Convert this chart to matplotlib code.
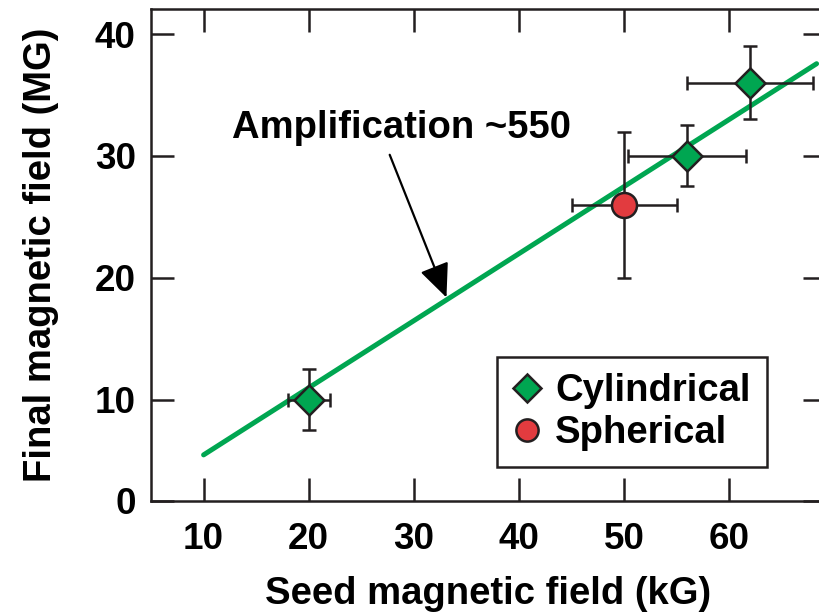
import matplotlib.pyplot as plt
from matplotlib.lines import Line2D

plt.rcParams["font.family"] = ["Liberation Sans", "DejaVu Sans"]
plt.rcParams["font.weight"] = "bold"

# Cylindrical implosions
cyl_seed = [20, 56, 62]
cyl_final = [10, 30, 36]
cyl_seed_err = [2, 5.6, 6]
cyl_final_err = [2.5, 2.5, 3]

# Spherical implosion
sph_seed = [50]
sph_final = [26]
sph_seed_err = [5]
sph_final_err = [6]

# amplification line, B_final (MG) = 550 * B_seed (kG) / 1000
amplification = 550
fit_seed = [10, 68.3]
fit_final = [amplification * s / 1000 for s in fit_seed]

x_ticks = [10, 20, 30, 40, 50, 60]
y_ticks = [0, 10, 20, 30, 40]
x_lim = (5, 69.2)
y_lim = (1.72, 42.05)

dark = "#231F20"
green = "#00A651"
red = "#E23B3F"

fig = plt.figure(figsize=(8.19, 6.16), dpi=100)
ax = fig.add_axes([0.1844, 0.1867, 0.8242, 0.7987])

ax.plot(fit_seed, fit_final, color=green, lw=3.6, solid_capstyle="round", zorder=2)

ax.errorbar(cyl_seed, cyl_final, xerr=cyl_seed_err, yerr=cyl_final_err, fmt="none",
            ecolor=dark, elinewidth=1.8, capsize=5, capthick=1.8, zorder=3)
ax.errorbar(sph_seed, sph_final, xerr=sph_seed_err, yerr=sph_final_err, fmt="none",
            ecolor=dark, elinewidth=1.8, capsize=5, capthick=1.8, zorder=3)
ax.plot(cyl_seed, cyl_final, "D", ms=15.5, mfc=green, mec=dark, mew=1.8, zorder=4)
ax.plot(sph_seed, sph_final, "o", ms=18, mfc=red, mec=dark, mew=1.8, zorder=4)

ax.text(28.8, 32.3, f"Amplification ~{amplification}", fontsize=27.5, fontweight="bold",
        ha="center", va="center")
ax.annotate("", xy=(33.1, 18.4), xytext=(27.7, 30.1),
            arrowprops=dict(arrowstyle="-|>,head_length=0.95,head_width=0.42",
                            color="black", lw=1.6, mutation_scale=22, shrinkA=0, shrinkB=0))

handles = [
    Line2D([], [], ls="none", marker="D", ms=14, mfc=green, mec=dark, mew=1.8),
    Line2D([], [], ls="none", marker="o", ms=16, mfc=red, mec=dark, mew=1.8),
]
leg = ax.legend(handles, ["Cylindrical", "Spherical"], loc="upper left",
                bbox_to_anchor=(0.5126, 0.2927), borderaxespad=0, fontsize=27.5,
                fancybox=False, framealpha=1, edgecolor=dark, handlelength=0.75,
                handletextpad=0.35, borderpad=0.42, labelspacing=0.16)
leg.get_frame().set_linewidth(1.8)

ax.set_xlim(*x_lim)
ax.set_ylim(*y_lim)
ax.set_xticks(x_ticks)
ax.set_yticks([max(t, y_lim[0]) for t in y_ticks], [str(t) for t in y_ticks])
ax.tick_params(direction="in", length=16.5, width=1.8, color=dark, labelsize=26.5,
               top=True, right=True)
ax.tick_params(axis="x", pad=15)
ax.tick_params(axis="y", pad=11)
for s in ax.spines.values():
    s.set_linewidth(1.8)
    s.set_color(dark)

ax.set_xlabel("Seed magnetic field (kG)", fontsize=27.5, fontweight="bold", labelpad=14)
ax.set_ylabel("Final magnetic field (MG)", fontsize=27.5, fontweight="bold", labelpad=26)

fig.savefig("out.png", dpi=100)
